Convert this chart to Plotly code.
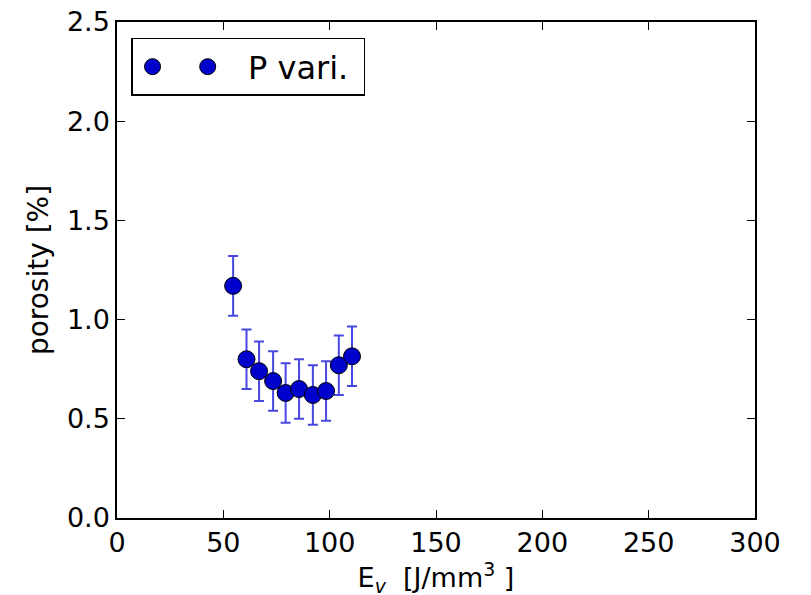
import plotly.graph_objects as go

# energy density [J/mm^3] and porosity [%]
ev = [54.6, 60.9, 66.8, 73.4, 79.3, 85.6, 92.1, 98.3, 104.3, 110.5]
porosity = [1.17, 0.80, 0.74, 0.69, 0.63, 0.65, 0.62, 0.64, 0.77, 0.815]
porosity_err = [0.15, 0.15, 0.15, 0.15, 0.15, 0.15, 0.15, 0.15, 0.15, 0.15]

FONT = "DejaVu Sans"
NBSP = "\u00a0"
MARKER = dict(size=17, color="#0000cc", line=dict(color="black", width=1))
ERR = dict(type="data", array=porosity_err, visible=True,
           color="rgba(40,40,220,0.85)", thickness=2, width=5)

fig = go.Figure()
# dummy first entry so the legend shows two symbols like matplotlib's numpoints=2
fig.add_trace(go.Scatter(x=[None], y=[None], mode="markers", name=" ",
                         marker=MARKER, showlegend=True))
fig.add_trace(go.Scatter(x=ev, y=porosity, mode="markers",
                         name=NBSP * 2 + "P vari." + NBSP,
                         marker=MARKER, error_y=ERR))

axis = dict(showline=True, linecolor="black", linewidth=1.5, mirror="ticks",
            ticks="inside", ticklen=8, tickwidth=1, tickcolor="black",
            showgrid=False, zeroline=False, ticklabeloverflow="allow",
            automargin=False,
            tickfont=dict(family=FONT, size=27, color="black"))

# page has an 8px body margin, so the figure sits 8px right/down
fig.update_layout(
    width=811, height=595,
    margin=dict(l=109, r=64, t=14, b=85),
    paper_bgcolor="white", plot_bgcolor="white",
    font=dict(family=FONT, color="black"),
    xaxis=dict(range=[0, 300], dtick=50,
               title=dict(text="E<sub><i>v</i></sub>  [J/mm<sup>3</sup> ]",
                          font=dict(size=27), standoff=4),
               **axis),
    yaxis=dict(range=[0, 2.5], dtick=0.5, tickformat=".1f",
               title=dict(text="porosity [%]", font=dict(size=28), standoff=10),
               **axis),
    legend=dict(x=0.022, y=0.968, xanchor="left", yanchor="top",
                orientation="h", bordercolor="black", borderwidth=1.5,
                bgcolor="white", font=dict(size=32), itemwidth=30,
                tracegroupgap=0),
    showlegend=True,
)

fig.write_html("out.html")
